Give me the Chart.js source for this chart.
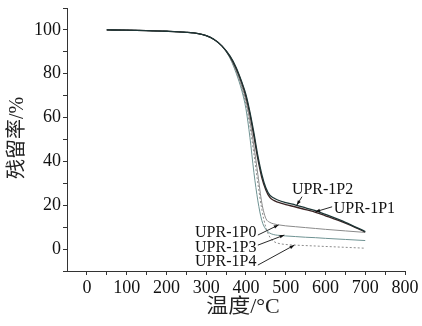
<!DOCTYPE html>
<html>
<head>
<meta charset="utf-8">
<script src="https://cdn.jsdelivr.net/npm/chart.js@4.4.1/dist/chart.umd.min.js"></script>
<style>
html,body{margin:0;padding:0;background:#fff;}
#wrap{width:422px;height:326px;}
</style>
</head>
<body>
<div id="wrap"><canvas id="c" width="422" height="326"></canvas></div>
<script>
// ---- data (temperature °C -> residual %) ----
const temps  = [50,100,150,200,250,280,300,320,340,360,375,390,400,410,420,430,440,450,460,470,480,500,525,550,575,600,650,700];
const upr1P0 = [100,99.9,99.7,99.4,98.9,98.3,97.4,95.6,92.6,87.5,81.5,74,67.5,58.5,47,34,21,14,12.2,11.5,11.1,10.6,10.2,9.8,9.4,9.0,8.3,7.6];
const upr1P1 = [100,99.9,99.7,99.4,98.9,98.3,97.4,95.6,92.6,87.8,82.5,75.5,69.5,61.5,51.5,41,32.5,27,23.6,22.2,21.4,20.3,19.2,18.0,16.8,15.2,11.8,7.8];
const upr1P2 = [100,99.9,99.7,99.4,98.9,98.3,97.4,95.6,92.6,88,83,76,70.5,62.5,53,42.5,34,28,24.6,23.3,22.4,21.2,20.1,18.8,17.5,15.8,12.2,8.0];
const upr1P3 = [100,99.9,99.7,99.4,98.9,98.3,97.4,95.6,92.6,87,80.5,72,64,51,35,22,13,9,7.3,6.6,6.3,6.0,5.7,5.4,5.2,4.9,4.4,3.9];
const upr1P4 = [100,99.9,99.7,99.4,98.9,98.3,97.4,95.6,92.6,87.3,81,73,66,56,43.5,30,18,10,5.5,3.5,2.7,2.1,1.8,1.6,1.4,1.2,0.8,0.4];
const seriesNames = ['UPR-1P0','UPR-1P1','UPR-1P2','UPR-1P3','UPR-1P4'];

// ---- ticks ----
const xTickValues = [0,50,100,150,200,250,300,350,400,450,500,550,600,650,700,750,800];
const xTickLabels = ['0','','100','','200','','300','','400','','500','','600','','700','','800'];
const yTickValues = [-10,0,10,20,30,40,50,60,70,80,90,100,110];
const yTickLabels = ['','0','','20','','40','','60','','80','','100',''];

// ---- annotations: label anchor (data units) and arrow from -> to ----
const annLabels = ['UPR-1P2','UPR-1P1','UPR-1P0','UPR-1P3','UPR-1P4'];
const annTextX  = [515.6, 620.8, 272, 272, 272];
const annTextY  = [26.9, 18.3, 7.5, 0.8, -5.8];
const annFromX  = [541, 616.7, 430, 430, 430];
const annFromY  = [23.9, 19.3, 6.4, 1.8, -7.3];
const annToX    = [528, 574.6, 482, 496.5, 521.7];
const annToY    = [20.1, 17.0, 11.0, 6.4, 1.8];

const pts = arr => temps.map((t,i)=>({x:t,y:arr[i]}));
const serif = "'Liberation Serif','Times New Roman',serif";
const cjk = "'Liberation Serif','Noto Sans CJK SC',serif";

const extras = {
  id:'extras',
  afterDraw(chart){
    const ctx = chart.ctx, xs = chart.scales.x, ys = chart.scales.y;
    ctx.save();
    // annotations
    ctx.fillStyle = '#111';
    ctx.strokeStyle = '#111';
    ctx.font = '16px ' + serif;
    ctx.textBaseline = 'middle';
    ctx.textAlign = 'left';
    for (let i=0;i<annLabels.length;i++){
      ctx.fillText(annLabels[i], xs.getPixelForValue(annTextX[i]), ys.getPixelForValue(annTextY[i]));
      const x1 = xs.getPixelForValue(annFromX[i]), y1 = ys.getPixelForValue(annFromY[i]);
      const x2 = xs.getPixelForValue(annToX[i]),   y2 = ys.getPixelForValue(annToY[i]);
      ctx.lineWidth = 0.9;
      ctx.beginPath(); ctx.moveTo(x1,y1); ctx.lineTo(x2,y2); ctx.stroke();
      const a = Math.atan2(y2-y1, x2-x1), L = 5, W = 0.35;
      ctx.beginPath();
      ctx.moveTo(x2,y2);
      ctx.lineTo(x2 - L*Math.cos(a-W), y2 - L*Math.sin(a-W));
      ctx.lineTo(x2 - L*Math.cos(a+W), y2 - L*Math.sin(a+W));
      ctx.closePath(); ctx.fill();
    }
    // axis titles
    ctx.fillStyle = '#222';
    ctx.font = '20px ' + cjk;
    ctx.textAlign = 'center';
    ctx.textBaseline = 'middle';
    ctx.save();
    ctx.translate(243, 308);
    ctx.scale(1.1, 1);
    ctx.fillText('温度/°C', 0, 0);
    ctx.restore();
    ctx.translate(17.5, 138);
    ctx.rotate(-Math.PI/2);
    ctx.fillText('残留率/%', 0, 0);
    ctx.restore();
  }
};

new Chart(document.getElementById('c'), {
  type:'line',
  data:{
    datasets:[
      {label:seriesNames[2], data:pts(upr1P2), borderColor:'#1d3636', borderWidth:1.3},
      {label:seriesNames[1], data:pts(upr1P1), borderColor:'#3a2424', borderWidth:1.3},
      {label:seriesNames[0], data:pts(upr1P0), borderColor:'#8a8a8a', borderWidth:1},
      {label:seriesNames[3], data:pts(upr1P3), borderColor:'#6f9393', borderWidth:1},
      {label:seriesNames[4], data:pts(upr1P4), borderColor:'#8c8c8c', borderWidth:1, borderDash:[2,2]}
    ]
  },
  options:{
    responsive:false,
    animation:false,
    devicePixelRatio:1,
    layout:{padding:{left:0,right:17,top:8,bottom:0}},
    elements:{point:{radius:0}, line:{cubicInterpolationMode:'monotone', fill:false}},
    plugins:{legend:{display:false}, tooltip:{enabled:false}},
    scales:{
      x:{
        type:'linear', min:-50, max:800,
        afterBuildTicks(s){ s.ticks = xTickValues.map(v=>({value:v})); },
        afterFit(s){ s.height = 55; s.paddingLeft = 0; s.paddingRight = 0; },
        ticks:{autoSkip:false, maxRotation:0, padding:2, color:'#111',
               font:{family:serif, size:18},
               callback:(v,i)=>xTickLabels[i]},
        grid:{display:true, drawOnChartArea:false, drawTicks:true, tickLength:4, color:'#333'},
        border:{display:true, color:'#333', width:1}
      },
      y:{
        type:'linear', min:-10, max:110,
        afterBuildTicks(s){ s.ticks = yTickValues.map(v=>({value:v})); },
        afterFit(s){ s.width = 67; s.paddingTop = 0; s.paddingBottom = 0; },
        ticks:{autoSkip:false, padding:2, color:'#111',
               font:{family:serif, size:18},
               callback:(v,i)=>yTickLabels[i]},
        grid:{display:true, drawOnChartArea:false, drawTicks:true, tickLength:4, color:'#333'},
        border:{display:true, color:'#333', width:1}
      }
    }
  },
  plugins:[extras]
});
</script>
</body>
</html>
